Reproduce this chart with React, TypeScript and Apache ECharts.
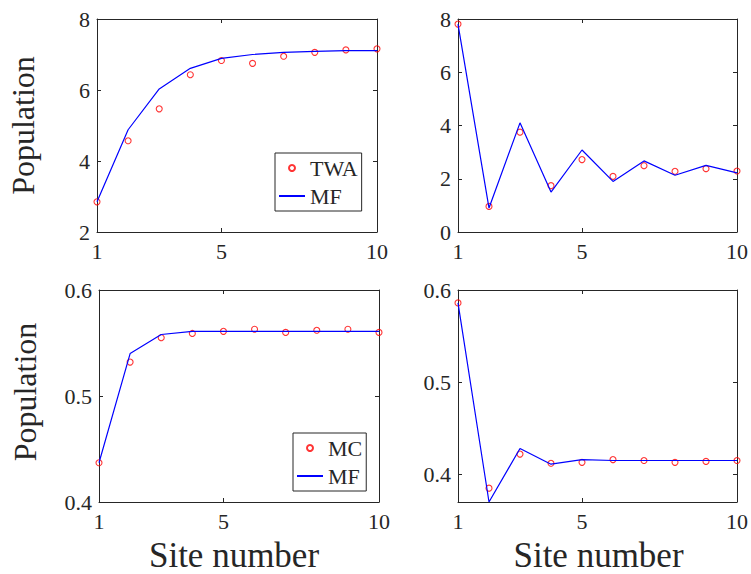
import React, { useEffect, useRef } from "react";
import * as echarts from "echarts";

const sites = [1, 2, 3, 4, 5, 6, 7, 8, 9, 10];
const xTicks = [1, 5, 10];

const twaTopLeft = [2.85, 4.57, 5.47, 6.43, 6.83, 6.75, 6.95, 7.06, 7.13, 7.16];
const mfTopLeft = [2.85, 4.88, 6.03, 6.61, 6.89, 7.0, 7.06, 7.09, 7.11, 7.11];
const twaTopRight = [7.81, 0.96, 3.75, 1.74, 2.72, 2.09, 2.49, 2.28, 2.38, 2.29];
const mfTopRight = [7.81, 0.9, 4.1, 1.5, 3.08, 1.9, 2.67, 2.13, 2.5, 2.22];
const mcBottomLeft = [0.437, 0.532, 0.555, 0.559, 0.561, 0.563, 0.56, 0.562, 0.563, 0.56];
const mfBottomLeft = [0.437, 0.54, 0.558, 0.561, 0.561, 0.561, 0.561, 0.561, 0.561, 0.561];
const mcBottomRight = [0.586, 0.385, 0.422, 0.412, 0.413, 0.416, 0.415, 0.413, 0.414, 0.415];
const mfBottomRight = [0.586, 0.37, 0.428, 0.411, 0.416, 0.415, 0.415, 0.415, 0.415, 0.415];

const yTicksTopLeft = [2, 4, 6, 8];
const yTicksTopRight = [0, 2, 4, 6, 8];
const yTicksBottom = [0.4, 0.5, 0.6];

const FONT = "Liberation Serif";
const AX = "#262626";
const RED = "#ff0000";
const BLUE = "#0000ff";

const grids = [
  { left: 97, top: 19, width: 280, height: 213 },
  { left: 458, top: 19, width: 280, height: 213 },
  { left: 99, top: 290, width: 280, height: 213 },
  { left: 458, top: 290, width: 280, height: 212 },
];

const yRanges = [
  { min: 2, max: 8, ticks: yTicksTopLeft, dec: 0 },
  { min: 0, max: 8, ticks: yTicksTopRight, dec: 0 },
  { min: 0.4, max: 0.6, ticks: yTicksBottom, dec: 1 },
  { min: 0.37, max: 0.6, ticks: yTicksBottom, dec: 1 },
];

const panels = [
  { dotName: "TWA", dots: twaTopLeft, line: mfTopLeft, yName: "Population", xName: "", yPad: [0, 0, 0, 0], xPad: [0, 0, 0, 0] },
  { dotName: "TWA", dots: twaTopRight, line: mfTopRight, yName: "", xName: "", yPad: [0, 0, 0, 0], xPad: [0, 0, 0, 0] },
  { dotName: "MC", dots: mcBottomLeft, line: mfBottomLeft, yName: "Population", xName: "Site number", yPad: [0, 0, 0, 8], xPad: [0, 10, 0, 0] },
  { dotName: "MC", dots: mcBottomRight, line: mfBottomRight, yName: "", xName: "Site number", yPad: [0, 0, 0, 0], xPad: [0, 0, 0, 2] },
];

export default function App() {
  const ref = useRef<HTMLDivElement>(null);
  useEffect(() => {
    if (!ref.current) return;
    const chart = echarts.init(ref.current, undefined, { renderer: "svg" });
    const xAxis: any[] = [];
    const yAxis: any[] = [];
    const series: any[] = [];
    const labelText = { fontFamily: FONT, fontSize: 22, color: AX };
    grids.forEach((g, i) => {
      const p = panels[i];
      const baseLine = { show: true, onZero: false, lineStyle: { color: AX, width: 1 } };
      const tick = (vals: number[]) => ({
        show: true,
        inside: true,
        length: 4,
        customValues: vals,
        lineStyle: { color: AX },
      });
      xAxis.push({
        type: "value",
        gridIndex: i,
        position: "bottom",
        min: 1,
        max: 10,
        name: p.xName,
        nameLocation: "middle",
        nameGap: 36,
        nameTextStyle: { fontFamily: FONT, fontSize: 35, color: AX, padding: p.xPad },
        axisLine: baseLine,
        axisTick: tick(xTicks),
        axisLabel: { show: true, customValues: xTicks, margin: 8, ...labelText },
        splitLine: { show: false },
      });
      xAxis.push({
        type: "value",
        gridIndex: i,
        position: "top",
        min: 1,
        max: 10,
        axisLine: baseLine,
        axisTick: tick(xTicks),
        axisLabel: { show: false, customValues: xTicks },
        splitLine: { show: false },
      });
      const yr = yRanges[i];
      const fmt = (v: number) => v.toFixed(yr.dec);
      yAxis.push({
        type: "value",
        gridIndex: i,
        position: "left",
        min: yr.min,
        max: yr.max,
        name: p.yName,
        nameLocation: "middle",
        nameRotate: 90,
        nameGap: 58,
        nameTextStyle: { fontFamily: FONT, fontSize: 32, color: AX, padding: p.yPad },
        axisLine: baseLine,
        axisTick: tick(yr.ticks),
        axisLabel: { show: true, customValues: yr.ticks, formatter: fmt, margin: 7, ...labelText },
        splitLine: { show: false },
      });
      yAxis.push({
        type: "value",
        gridIndex: i,
        position: "right",
        min: yr.min,
        max: yr.max,
        axisLine: baseLine,
        axisTick: tick(yr.ticks),
        axisLabel: { show: false, customValues: yr.ticks },
        splitLine: { show: false },
      });
      series.push({
        type: "scatter",
        name: p.dotName,
        xAxisIndex: i * 2,
        yAxisIndex: i * 2,
        symbol: "circle",
        symbolSize: 6,
        itemStyle: { color: "rgba(0,0,0,0)", borderColor: RED, borderWidth: 1.1 },
        data: sites.map((s, k) => [s, p.dots[k]]),
        z: 2,
      });
      series.push({
        type: "line",
        name: "MF",
        xAxisIndex: i * 2,
        yAxisIndex: i * 2,
        symbol: "none",
        showSymbol: false,
        lineStyle: { color: BLUE, width: 1.2 },
        itemStyle: { color: BLUE },
        data: sites.map((s, k) => [s, p.line[k]]),
        z: 3,
      });
    });

    const legendCommon = {
      orient: "vertical",
      itemWidth: 26,
      itemHeight: 6,
      itemGap: 6,
      backgroundColor: "#ffffff",
      borderColor: AX,
      borderWidth: 1,
      borderRadius: 0,
      selectedMode: false,
      textStyle: { fontFamily: FONT, fontSize: 22, color: AX, lineHeight: 22 },
    };
    const mfItem = { name: "MF", itemStyle: { opacity: 0 } };

    const option: any = {
      animation: false,
      backgroundColor: "#ffffff",
      textStyle: { fontFamily: FONT },
      grid: grids.map((g) => ({ ...g, containLabel: false })),
      xAxis,
      yAxis,
      series,
      legend: [
        { ...legendCommon, left: 275, top: 153, padding: [4, 4, 4, 3], data: ["TWA", mfItem] },
        { ...legendCommon, left: 293, top: 433, padding: [4, 4, 4, 3], data: ["MC", mfItem] },
      ],
    };
    chart.setOption(option);
    return () => chart.dispose();
  }, []);
  return (
    <div
      ref={ref}
      style={{ position: "absolute", left: 0, top: 0, width: 751, height: 574, background: "#fff" }}
    />
  );
}
